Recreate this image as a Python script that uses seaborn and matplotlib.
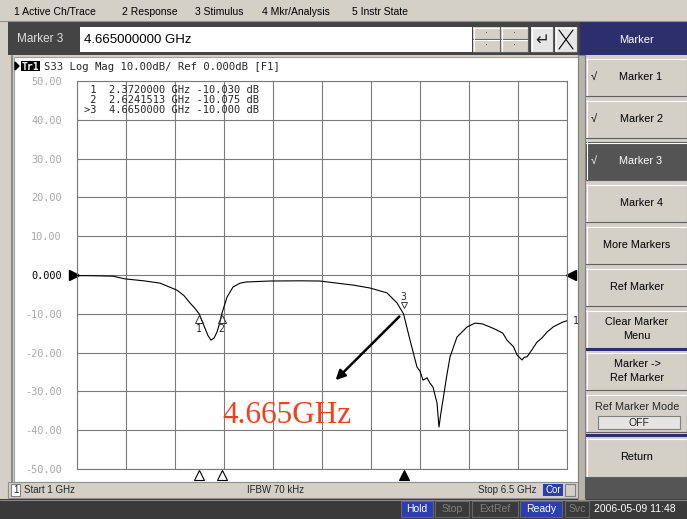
import numpy as np
import pandas as pd
import matplotlib
matplotlib.use('Agg')
import matplotlib.pyplot as plt
import matplotlib.transforms as mtrans
from matplotlib.patches import Rectangle, Polygon
import seaborn as sns

# ДАННЫЕ

# S33, Log Mag: частота (GHz) и уровень (dB)
freq_ghz = [1.000, 1.200, 1.404, 1.539, 1.750, 1.932, 2.122, 2.200, 2.268, 2.320, 2.372,
            2.420, 2.470, 2.504, 2.540, 2.571, 2.600, 2.624, 2.684, 2.751, 2.830,
            2.900, 3.166, 3.500, 3.727, 3.918, 4.100, 4.288, 4.479, 4.592, 4.665,
            4.738, 4.816, 4.850, 4.884, 4.929, 4.960, 4.996, 5.041, 5.063, 5.085,
            5.108, 5.150, 5.187, 5.265, 5.378, 5.467, 5.550, 5.636, 5.714, 5.780,
            5.827, 5.900, 5.939, 5.995, 6.020, 6.051, 6.100, 6.163, 6.220, 6.276,
            6.350, 6.455, 6.500]
s33_db = [-0.15, -0.2, -0.3, -1.0, -1.5, -2.1, -3.9, -5.3, -7.2, -8.5, -10.03,
          -12.8, -15.6, -16.8, -16.2, -14.7, -12.5, -10.075, -5.7, -3.1, -2.1,
          -1.8, -1.55, -1.5, -1.55, -2.1, -2.6, -3.35, -4.6, -7.2, -10.0,
          -16.8, -23.7, -24.8, -27.1, -26.5, -27.8, -28.9, -33.0, -39.2, -35.5,
          -32.2, -26.0, -21.1, -16.0, -13.4, -12.4, -12.6, -13.4, -14.2, -15.0,
          -16.8, -18.5, -20.6, -21.9, -21.2, -21.1, -19.5, -17.3, -16.2, -14.7,
          -13.3, -12.1, -11.8]

# маркеры
marker_ids = ['1', '2', '3']
marker_freq = [2.3720000, 2.6241513, 4.6650000]
marker_db = [-10.030, -10.075, -10.000]

# оси
f_start, f_stop = 1.0, 6.5
y_ticks = [50, 40, 30, 20, 10, 0, -10, -20, -30, -40, -50]
y_labels = ['50.00', '40.00', '30.00', '20.00', '10.00', '0.000',
            '-10.00', '-20.00', '-30.00', '-40.00', '-50.00']

menu_items = ['1 Active Ch/Trace', '2 Response', '3 Stimulus', '4 Mkr/Analysis', '5 Instr State']
menu_x = [14, 122, 195, 262, 352]

softkeys = ['Marker 1', 'Marker 2', 'Marker 3', 'Marker 4', 'More Markers', 'Ref Marker',
            'Clear Marker\nMenu', 'Marker ->\nRef Marker', 'Ref Marker Mode', 'Return']
softkey_y = [58, 100, 142, 184, 226, 268, 310, 352, 394, 438]

df = pd.DataFrame({'freq': freq_ghz, 'db': s33_db})

# _________________________________________________

# ОФОРМЛЕНИЕ

sns.set_style('white')
plt.rcParams['font.family'] = ['Liberation Sans', 'DejaVu Sans']

W, H = 687, 519
fig = plt.figure(figsize=(W / 100, H / 100), dpi=100)

# фон интерфейса в пикселях
ui = fig.add_axes([0, 0, 1, 1])
ui.set_xlim(0, W)
ui.set_ylim(H, 0)
ui.axis('off')

GRAY = '#d4d0c8'
DARK = '#444444'
NAVY = '#2c2f6b'


def box(x, y, w, h, fc, ec='none', lw=0.8, z=1):
    ui.add_patch(Rectangle((x, y), w, h, facecolor=fc, edgecolor=ec, linewidth=lw, zorder=z))


def button(x, y, w, h, fc=GRAY):
    box(x, y, w, h, fc, z=1)
    ui.plot([x, x + w], [y + 0.5, y + 0.5], color='white', lw=0.8, zorder=2)
    ui.plot([x + 0.5, x + 0.5], [y, y + h], color='white', lw=0.8, zorder=2)
    ui.plot([x, x + w], [y + h - 0.5, y + h - 0.5], color='#606060', lw=0.8, zorder=2)
    ui.plot([x + w - 0.5, x + w - 0.5], [y, y + h], color='#606060', lw=0.8, zorder=2)


box(0, 0, W, H, GRAY, z=0)

# верхнее меню
for label, x in zip(menu_items, menu_x):
    ui.text(x, 12, label, fontsize=7.5, va='center', ha='left', color='black')
ui.plot([0, W], [21, 21], color='#909090', lw=0.8)

# строка ввода
box(8, 22, 572, 33, DARK)
ui.text(17, 39, 'Marker 3', fontsize=8.5, va='center', color='#e0e0e0')
box(80, 27, 392, 25, 'white')
ui.text(84, 40, '4.665000000 GHz', fontsize=9.5, va='center', color='black')
for bx in [473, 501]:
    button(bx, 27, 27, 12)
    button(bx, 39, 27, 13)
    ui.text(bx + 13.5, 33, '·', fontsize=7, ha='center', va='center')
    ui.text(bx + 13.5, 45, '·', fontsize=7, ha='center', va='center')
button(531, 27, 22, 25, fc='#e6e6e6')
ui.text(542, 40, '↵', fontsize=12, ha='center', va='center')
button(555, 27, 22, 25, fc='#e6e6e6')
ui.plot([559, 573], [30, 49], color='black', lw=0.8, zorder=3)
ui.plot([559, 573], [49, 30], color='black', lw=0.8, zorder=3)

# панель графика
ui.plot([12, 12], [56, 482], color='#8a8a8a', lw=1.5)
box(14, 57, 564, 425, 'white', ec='#a0a0a0')
ui.add_patch(Polygon([[15, 62], [15, 70], [19, 66]], closed=True, color='black', zorder=3))
box(21, 61, 19, 10, 'black', z=3)
ui.text(30.5, 66.5, 'Tr1', fontsize=7, family='DejaVu Sans Mono', color='white',
        ha='center', va='center', zorder=4, fontweight='bold')
ui.text(44, 66.5, 'S33 Log Mag 10.00dB/ Ref 0.000dB [F1]', fontsize=7.6,
        family='DejaVu Sans Mono', va='center', ha='left')

# строка статуса канала
box(8, 482, 572, 16, GRAY, ec='#909090')
box(11, 484, 9, 12, 'white', ec='#808080')
ui.text(15.5, 490, '1', fontsize=7, ha='center', va='center')
ui.text(24, 490, 'Start 1 GHz', fontsize=7, va='center')
ui.text(247, 490, 'IFBW 70 kHz', fontsize=7, va='center')
ui.text(478, 490, 'Stop 6.5 GHz', fontsize=7, va='center')
box(543, 484, 20, 12, '#2a3eb0')
ui.text(553, 490, 'Cor', fontsize=7, color='white', ha='center', va='center')
box(565, 484, 10, 12, GRAY, ec='#808080')

# нижняя строка состояния
box(0, 499, W, 20, '#3a3a3a')
ui.plot([0, W], [499.5, 499.5], color='#8a8a8a', lw=0.8)
status = [('Hold', 401, 32, True), ('Stop', 435, 34, False), ('ExtRef', 472, 46, False),
          ('Ready', 520, 42, True), ('Svc', 565, 24, False)]
for label, sx, sw, on in status:
    box(sx, 501, sw, 16, '#2a3eb0' if on else '#3a3a3a', ec='#666666')
    ui.text(sx + sw / 2, 509, label, fontsize=7.5, ha='center', va='center',
            color='white' if on else '#808080')
ui.text(594, 509, '2006-05-09 11:48', fontsize=7.5, va='center', color='white')

# правая панель кнопок
box(580, 22, 107, 33, NAVY)
ui.text(637, 40, 'Marker', fontsize=8, color='white', ha='center', va='center')
box(578, 55, 7, 445, '#b8b4ac', ec='#808080')
box(585, 477, 102, 22, '#555555')
for i, (label, by) in enumerate(zip(softkeys, softkey_y)):
    h = 38 if i != 9 else 39
    active = label == 'Marker 3'
    button(586, by, 101, h, fc='#545454' if active else GRAY)
    col = 'white' if active else 'black'
    if label == 'Ref Marker Mode':
        ui.text(637, by + 13, label, fontsize=7.8, ha='center', va='center')
        box(598, by + 22, 82, 13, '#e4e4e4', ec='#808080', z=3)
        ui.text(639, by + 28.5, 'OFF', fontsize=7.5, ha='center', va='center', zorder=4)
    else:
        ui.text(637 if i > 3 else 641, by + h / 2, label, fontsize=7.8, ha='center',
                va='center', color=col, linespacing=1.5)
    if i < 3:
        ui.text(594, by + h / 2, '√', fontsize=8, ha='center', va='center', color=col)
for sy in [348, 434]:
    box(586, sy, 101, 3, NAVY, z=3)

# _________________________________________________

# ГРАФИК

x0, x1, y0, y1 = 77, 567, 81, 469
ax = fig.add_axes([x0 / W, 1 - y1 / H, (x1 - x0) / W, (y1 - y0) / H])
ax.patch.set_alpha(0)

sns.lineplot(data=df, x='freq', y='db', ax=ax, color='black', linewidth=0.8, zorder=3)

ax.set_xlim(f_start, f_stop)
ax.set_ylim(-50, 50)
ax.set_xticks(np.linspace(f_start, f_stop, 11))
ax.set_xticklabels([])
ax.set_yticks(y_ticks)
ax.set_yticklabels(y_labels, family='DejaVu Sans Mono', fontsize=7.4)
for t in ax.get_yticklabels():
    t.set_color('black' if t.get_text() == '0.000' else '#a8a8a8')
ax.tick_params(axis='y', length=2, pad=9, color='#707070')
ax.tick_params(axis='x', length=0)
ax.grid(True, color='#7a7a7a', linewidth=0.8)
for s in ax.spines.values():
    s.set_color('#7a7a7a')
    s.set_linewidth(0.8)
ax.set_xlabel('')
ax.set_ylabel('')

# таблица маркеров
table_lines = []
for mid, mf, md in zip(marker_ids, marker_freq, marker_db):
    prefix = '>' if mid == '3' else ' '
    table_lines.append(f'{prefix}{mid}  {mf:.7f} GHz {md:.3f} dB')
for i, line in enumerate(table_lines):
    ax.text(0.014, 0.978 - i * 0.027, line, transform=ax.transAxes, family='DejaVu Sans Mono',
            fontsize=7.5, va='center', ha='left', zorder=4)

# треугольники опорного уровня
ax.plot([0], [0], marker='>', color='black', markersize=7, transform=mtrans.offset_copy(
    ax.get_yaxis_transform(), fig, x=-3.5, units='dots'), clip_on=False)
ax.plot([1], [0], marker='<', color='black', markersize=7, transform=mtrans.offset_copy(
    ax.get_yaxis_transform(), fig, x=4, units='dots'), clip_on=False)

# маркеры на трассе
for mid, mf, md in zip(marker_ids, marker_freq, marker_db):
    if mid == '3':
        ax.plot([mf], [md], marker='v', markersize=5, markerfacecolor='white',
                markeredgecolor='#404040', markeredgewidth=0.7, zorder=5,
                transform=mtrans.offset_copy(ax.transData, fig, y=9, units='dots'))
        ax.annotate(mid, (mf, md), xytext=(0, 12), textcoords='offset points', ha='center',
                    va='center', fontsize=7, family='DejaVu Sans Mono', zorder=5)
        bottom_fc = 'black'
    else:
        ax.plot([mf], [md], marker='^', markersize=6, markerfacecolor='none',
                markeredgecolor='#303030', markeredgewidth=0.7, zorder=5,
                transform=mtrans.offset_copy(ax.transData, fig, y=-5, units='dots'))
        ax.annotate(mid, (mf, md), xytext=(0, -11), textcoords='offset points', ha='center',
                    va='center', fontsize=7, family='DejaVu Sans Mono', zorder=5)
        bottom_fc = 'white'
    ax.plot([mf], [0], marker='^', markersize=7, markerfacecolor=bottom_fc,
            markeredgecolor='black', markeredgewidth=0.8, clip_on=False, zorder=5,
            transform=mtrans.offset_copy(ax.get_xaxis_transform(), fig, y=-6, units='dots'))

# метка активного маркера у правого края
ax.annotate('1', (freq_ghz[-1], s33_db[-1]), xytext=(4, 0), textcoords='offset points',
            fontsize=7, family='DejaVu Sans Mono', va='center', annotation_clip=False)

# стрелка и подпись
ax.annotate('', xy=(3.88, -27.6), xytext=(4.64, -10.2),
            arrowprops=dict(arrowstyle='-|>', color='black', lw=1.8, mutation_scale=14), zorder=6)
ax.text(3.357, -36.3, '4.665GHz', family=['Liberation Serif', 'DejaVu Serif'], fontsize=22.5,
        color='#f0401c', ha='center', va='center', zorder=6)

fig.savefig('out.png', dpi=100)
